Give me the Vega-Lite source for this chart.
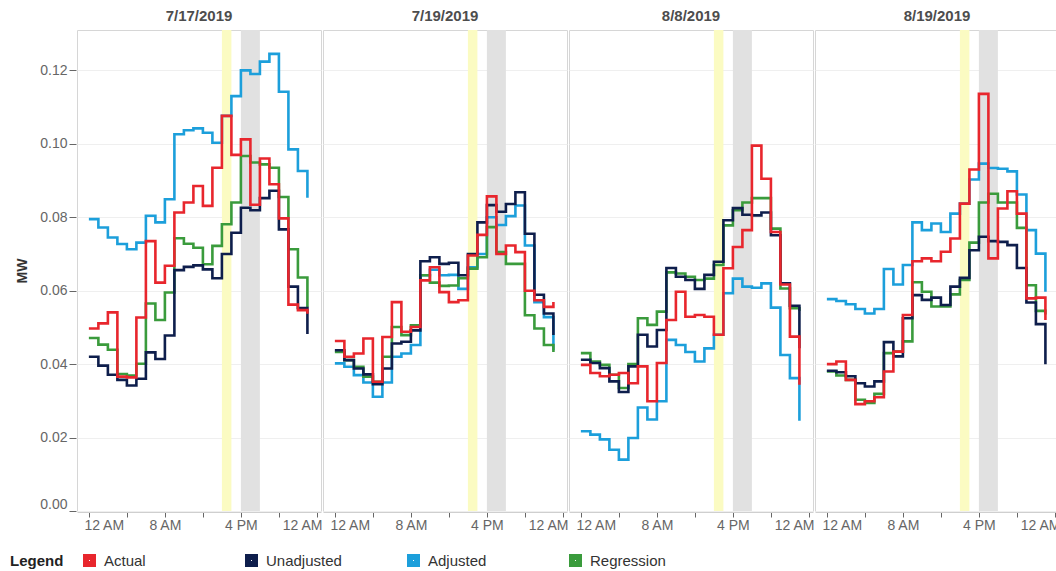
{
  "$schema": "https://vega.github.io/schema/vega-lite/v6.json",
  "padding": {"left": 10, "top": 9, "right": 0, "bottom": 0},
  "background": "white",
  "data": {
    "values": [
      {"d": "7/17/2019", "band": "event", "x0": 14, "x1": 15},
      {"d": "7/17/2019", "band": "peak", "x0": 16, "x1": 18},
      {"d": "7/19/2019", "band": "event", "x0": 14, "x1": 15},
      {"d": "7/19/2019", "band": "peak", "x0": 16, "x1": 18},
      {"d": "8/8/2019", "band": "event", "x0": 14, "x1": 15},
      {"d": "8/8/2019", "band": "peak", "x0": 16, "x1": 18},
      {"d": "8/19/2019", "band": "event", "x0": 14, "x1": 15},
      {"d": "8/19/2019", "band": "peak", "x0": 16, "x1": 18},

      {"d": "7/17/2019", "h": 0, "Actual": 0.0497, "Unadjusted": 0.0420, "Adjusted": 0.0795, "Regression": 0.0471},
      {"d": "7/17/2019", "h": 1, "Actual": 0.0511, "Unadjusted": 0.0396, "Adjusted": 0.0772, "Regression": 0.0453},
      {"d": "7/17/2019", "h": 2, "Actual": 0.0541, "Unadjusted": 0.0371, "Adjusted": 0.0745, "Regression": 0.0439},
      {"d": "7/17/2019", "h": 3, "Actual": 0.0366, "Unadjusted": 0.0357, "Adjusted": 0.0727, "Regression": 0.0373},
      {"d": "7/17/2019", "h": 4, "Actual": 0.0364, "Unadjusted": 0.0342, "Adjusted": 0.0713, "Regression": 0.0369},
      {"d": "7/17/2019", "h": 5, "Actual": 0.0527, "Unadjusted": 0.0360, "Adjusted": 0.0731, "Regression": 0.0401},
      {"d": "7/17/2019", "h": 6, "Actual": 0.0735, "Unadjusted": 0.0432, "Adjusted": 0.0804, "Regression": 0.0565},
      {"d": "7/17/2019", "h": 7, "Actual": 0.0622, "Unadjusted": 0.0414, "Adjusted": 0.0786, "Regression": 0.0520},
      {"d": "7/17/2019", "h": 8, "Actual": 0.0668, "Unadjusted": 0.0478, "Adjusted": 0.0849, "Regression": 0.0595},
      {"d": "7/17/2019", "h": 9, "Actual": 0.0813, "Unadjusted": 0.0656, "Adjusted": 0.1026, "Regression": 0.0743},
      {"d": "7/17/2019", "h": 10, "Actual": 0.0840, "Unadjusted": 0.0665, "Adjusted": 0.1037, "Regression": 0.0728},
      {"d": "7/17/2019", "h": 11, "Actual": 0.0885, "Unadjusted": 0.0669, "Adjusted": 0.1042, "Regression": 0.0717},
      {"d": "7/17/2019", "h": 12, "Actual": 0.0831, "Unadjusted": 0.0658, "Adjusted": 0.1030, "Regression": 0.0672},
      {"d": "7/17/2019", "h": 13, "Actual": 0.0935, "Unadjusted": 0.0634, "Adjusted": 0.1003, "Regression": 0.0722},
      {"d": "7/17/2019", "h": 14, "Actual": 0.1076, "Unadjusted": 0.0700, "Adjusted": 0.1076, "Regression": 0.0781},
      {"d": "7/17/2019", "h": 15, "Actual": 0.0970, "Unadjusted": 0.0758, "Adjusted": 0.1130, "Regression": 0.0840},
      {"d": "7/17/2019", "h": 16, "Actual": 0.1012, "Unadjusted": 0.0826, "Adjusted": 0.1200, "Regression": 0.0967},
      {"d": "7/17/2019", "h": 17, "Actual": 0.0834, "Unadjusted": 0.0819, "Adjusted": 0.1190, "Regression": 0.0949},
      {"d": "7/17/2019", "h": 18, "Actual": 0.0960, "Unadjusted": 0.0852, "Adjusted": 0.1224, "Regression": 0.0944},
      {"d": "7/17/2019", "h": 19, "Actual": 0.0890, "Unadjusted": 0.0872, "Adjusted": 0.1245, "Regression": 0.0935},
      {"d": "7/17/2019", "h": 20, "Actual": 0.0797, "Unadjusted": 0.0767, "Adjusted": 0.1142, "Regression": 0.0855},
      {"d": "7/17/2019", "h": 21, "Actual": 0.0562, "Unadjusted": 0.0611, "Adjusted": 0.0985, "Regression": 0.0713},
      {"d": "7/17/2019", "h": 22, "Actual": 0.0547, "Unadjusted": 0.0553, "Adjusted": 0.0926, "Regression": 0.0636},
      {"d": "7/17/2019", "h": 23, "Actual": 0.0537, "Unadjusted": 0.0482, "Adjusted": 0.0853, "Regression": 0.0555},

      {"d": "7/19/2019", "h": 0, "Actual": 0.0463, "Unadjusted": 0.0438, "Adjusted": 0.0402, "Regression": 0.0433},
      {"d": "7/19/2019", "h": 1, "Actual": 0.0420, "Unadjusted": 0.0411, "Adjusted": 0.0393, "Regression": 0.0411},
      {"d": "7/19/2019", "h": 2, "Actual": 0.0429, "Unadjusted": 0.0388, "Adjusted": 0.0370, "Regression": 0.0393},
      {"d": "7/19/2019", "h": 3, "Actual": 0.0470, "Unadjusted": 0.0372, "Adjusted": 0.0350, "Regression": 0.0366},
      {"d": "7/19/2019", "h": 4, "Actual": 0.0352, "Unadjusted": 0.0345, "Adjusted": 0.0311, "Regression": 0.0352},
      {"d": "7/19/2019", "h": 5, "Actual": 0.0474, "Unadjusted": 0.0388, "Adjusted": 0.0350, "Regression": 0.0420},
      {"d": "7/19/2019", "h": 6, "Actual": 0.0569, "Unadjusted": 0.0456, "Adjusted": 0.0420, "Regression": 0.0501},
      {"d": "7/19/2019", "h": 7, "Actual": 0.0488, "Unadjusted": 0.0461, "Adjusted": 0.0429, "Regression": 0.0479},
      {"d": "7/19/2019", "h": 8, "Actual": 0.0501, "Unadjusted": 0.0492, "Adjusted": 0.0452, "Regression": 0.0506},
      {"d": "7/19/2019", "h": 9, "Actual": 0.0628, "Unadjusted": 0.0680, "Adjusted": 0.0642, "Regression": 0.0642},
      {"d": "7/19/2019", "h": 10, "Actual": 0.0664, "Unadjusted": 0.0691, "Adjusted": 0.0657, "Regression": 0.0622},
      {"d": "7/19/2019", "h": 11, "Actual": 0.0596, "Unadjusted": 0.0673, "Adjusted": 0.0642, "Regression": 0.0613},
      {"d": "7/19/2019", "h": 12, "Actual": 0.0569, "Unadjusted": 0.0676, "Adjusted": 0.0643, "Regression": 0.0614},
      {"d": "7/19/2019", "h": 13, "Actual": 0.0574, "Unadjusted": 0.0642, "Adjusted": 0.0605, "Regression": 0.0634},
      {"d": "7/19/2019", "h": 14, "Actual": 0.0696, "Unadjusted": 0.0700, "Adjusted": 0.0664, "Regression": 0.0660},
      {"d": "7/19/2019", "h": 15, "Actual": 0.0752, "Unadjusted": 0.0786, "Adjusted": 0.0700, "Regression": 0.0691},
      {"d": "7/19/2019", "h": 16, "Actual": 0.0857, "Unadjusted": 0.0833, "Adjusted": 0.0800, "Regression": 0.0773},
      {"d": "7/19/2019", "h": 17, "Actual": 0.0700, "Unadjusted": 0.0815, "Adjusted": 0.0779, "Regression": 0.0705},
      {"d": "7/19/2019", "h": 18, "Actual": 0.0723, "Unadjusted": 0.0836, "Adjusted": 0.0803, "Regression": 0.0673},
      {"d": "7/19/2019", "h": 19, "Actual": 0.0705, "Unadjusted": 0.0868, "Adjusted": 0.0832, "Regression": 0.0673},
      {"d": "7/19/2019", "h": 20, "Actual": 0.0600, "Unadjusted": 0.0755, "Adjusted": 0.0723, "Regression": 0.0533},
      {"d": "7/19/2019", "h": 21, "Actual": 0.0574, "Unadjusted": 0.0589, "Adjusted": 0.0569, "Regression": 0.0497},
      {"d": "7/19/2019", "h": 22, "Actual": 0.0556, "Unadjusted": 0.0538, "Adjusted": 0.0528, "Regression": 0.0452},
      {"d": "7/19/2019", "h": 23, "Actual": 0.0569, "Unadjusted": 0.0479, "Adjusted": 0.0438, "Regression": 0.0433},

      {"d": "8/8/2019", "h": 0, "Actual": 0.0398, "Unadjusted": 0.0412, "Adjusted": 0.0217, "Regression": 0.0430},
      {"d": "8/8/2019", "h": 1, "Actual": 0.0376, "Unadjusted": 0.0403, "Adjusted": 0.0208, "Regression": 0.0407},
      {"d": "8/8/2019", "h": 2, "Actual": 0.0367, "Unadjusted": 0.0389, "Adjusted": 0.0195, "Regression": 0.0398},
      {"d": "8/8/2019", "h": 3, "Actual": 0.0371, "Unadjusted": 0.0353, "Adjusted": 0.0167, "Regression": 0.0371},
      {"d": "8/8/2019", "h": 4, "Actual": 0.0376, "Unadjusted": 0.0324, "Adjusted": 0.0140, "Regression": 0.0335},
      {"d": "8/8/2019", "h": 5, "Actual": 0.0348, "Unadjusted": 0.0394, "Adjusted": 0.0199, "Regression": 0.0400},
      {"d": "8/8/2019", "h": 6, "Actual": 0.0394, "Unadjusted": 0.0480, "Adjusted": 0.0282, "Regression": 0.0525},
      {"d": "8/8/2019", "h": 7, "Actual": 0.0299, "Unadjusted": 0.0448, "Adjusted": 0.0249, "Regression": 0.0507},
      {"d": "8/8/2019", "h": 8, "Actual": 0.0403, "Unadjusted": 0.0493, "Adjusted": 0.0299, "Regression": 0.0543},
      {"d": "8/8/2019", "h": 9, "Actual": 0.0520, "Unadjusted": 0.0662, "Adjusted": 0.0466, "Regression": 0.0650},
      {"d": "8/8/2019", "h": 10, "Actual": 0.0597, "Unadjusted": 0.0638, "Adjusted": 0.0452, "Regression": 0.0647},
      {"d": "8/8/2019", "h": 11, "Actual": 0.0529, "Unadjusted": 0.0629, "Adjusted": 0.0433, "Regression": 0.0638},
      {"d": "8/8/2019", "h": 12, "Actual": 0.0534, "Unadjusted": 0.0605, "Adjusted": 0.0407, "Regression": 0.0629},
      {"d": "8/8/2019", "h": 13, "Actual": 0.0529, "Unadjusted": 0.0643, "Adjusted": 0.0443, "Regression": 0.0633},
      {"d": "8/8/2019", "h": 14, "Actual": 0.0480, "Unadjusted": 0.0679, "Adjusted": 0.0480, "Regression": 0.0670},
      {"d": "8/8/2019", "h": 15, "Actual": 0.0661, "Unadjusted": 0.0792, "Adjusted": 0.0593, "Regression": 0.0778},
      {"d": "8/8/2019", "h": 16, "Actual": 0.0719, "Unadjusted": 0.0825, "Adjusted": 0.0633, "Regression": 0.0819},
      {"d": "8/8/2019", "h": 17, "Actual": 0.0765, "Unadjusted": 0.0807, "Adjusted": 0.0611, "Regression": 0.0840},
      {"d": "8/8/2019", "h": 18, "Actual": 0.0995, "Unadjusted": 0.0805, "Adjusted": 0.0608, "Regression": 0.0852},
      {"d": "8/8/2019", "h": 19, "Actual": 0.0905, "Unadjusted": 0.0813, "Adjusted": 0.0620, "Regression": 0.0852},
      {"d": "8/8/2019", "h": 20, "Actual": 0.0760, "Unadjusted": 0.0751, "Adjusted": 0.0554, "Regression": 0.0769},
      {"d": "8/8/2019", "h": 21, "Actual": 0.0617, "Unadjusted": 0.0620, "Adjusted": 0.0425, "Regression": 0.0606},
      {"d": "8/8/2019", "h": 22, "Actual": 0.0475, "Unadjusted": 0.0559, "Adjusted": 0.0362, "Regression": 0.0552},
      {"d": "8/8/2019", "h": 23, "Actual": 0.0344, "Unadjusted": 0.0443, "Adjusted": 0.0246, "Regression": 0.0545},

      {"d": "8/19/2019", "h": 0, "Actual": 0.0400, "Unadjusted": 0.0382, "Adjusted": 0.0577, "Regression": 0.0380},
      {"d": "8/19/2019", "h": 1, "Actual": 0.0407, "Unadjusted": 0.0378, "Adjusted": 0.0572, "Regression": 0.0369},
      {"d": "8/19/2019", "h": 2, "Actual": 0.0357, "Unadjusted": 0.0367, "Adjusted": 0.0563, "Regression": 0.0357},
      {"d": "8/19/2019", "h": 3, "Actual": 0.0291, "Unadjusted": 0.0348, "Adjusted": 0.0550, "Regression": 0.0303},
      {"d": "8/19/2019", "h": 4, "Actual": 0.0299, "Unadjusted": 0.0339, "Adjusted": 0.0538, "Regression": 0.0294},
      {"d": "8/19/2019", "h": 5, "Actual": 0.0310, "Unadjusted": 0.0353, "Adjusted": 0.0550, "Regression": 0.0319},
      {"d": "8/19/2019", "h": 6, "Actual": 0.0380, "Unadjusted": 0.0460, "Adjusted": 0.0659, "Regression": 0.0430},
      {"d": "8/19/2019", "h": 7, "Actual": 0.0434, "Unadjusted": 0.0421, "Adjusted": 0.0617, "Regression": 0.0434},
      {"d": "8/19/2019", "h": 8, "Actual": 0.0534, "Unadjusted": 0.0525, "Adjusted": 0.0670, "Regression": 0.0462},
      {"d": "8/19/2019", "h": 9, "Actual": 0.0680, "Unadjusted": 0.0588, "Adjusted": 0.0786, "Regression": 0.0623},
      {"d": "8/19/2019", "h": 10, "Actual": 0.0688, "Unadjusted": 0.0575, "Adjusted": 0.0765, "Regression": 0.0597},
      {"d": "8/19/2019", "h": 11, "Actual": 0.0680, "Unadjusted": 0.0581, "Adjusted": 0.0783, "Regression": 0.0557},
      {"d": "8/19/2019", "h": 12, "Actual": 0.0706, "Unadjusted": 0.0561, "Adjusted": 0.0760, "Regression": 0.0557},
      {"d": "8/19/2019", "h": 13, "Actual": 0.0742, "Unadjusted": 0.0611, "Adjusted": 0.0810, "Regression": 0.0590},
      {"d": "8/19/2019", "h": 14, "Actual": 0.0837, "Unadjusted": 0.0635, "Adjusted": 0.0837, "Regression": 0.0629},
      {"d": "8/19/2019", "h": 15, "Actual": 0.0930, "Unadjusted": 0.0710, "Adjusted": 0.0903, "Regression": 0.0731},
      {"d": "8/19/2019", "h": 16, "Actual": 0.1136, "Unadjusted": 0.0747, "Adjusted": 0.0946, "Regression": 0.0840},
      {"d": "8/19/2019", "h": 17, "Actual": 0.0688, "Unadjusted": 0.0735, "Adjusted": 0.0934, "Regression": 0.0864},
      {"d": "8/19/2019", "h": 18, "Actual": 0.0824, "Unadjusted": 0.0733, "Adjusted": 0.0932, "Regression": 0.0840},
      {"d": "8/19/2019", "h": 19, "Actual": 0.0871, "Unadjusted": 0.0724, "Adjusted": 0.0925, "Regression": 0.0840},
      {"d": "8/19/2019", "h": 20, "Actual": 0.0810, "Unadjusted": 0.0662, "Adjusted": 0.0862, "Regression": 0.0771},
      {"d": "8/19/2019", "h": 21, "Actual": 0.0579, "Unadjusted": 0.0568, "Adjusted": 0.0765, "Regression": 0.0615},
      {"d": "8/19/2019", "h": 22, "Actual": 0.0581, "Unadjusted": 0.0509, "Adjusted": 0.0701, "Regression": 0.0545},
      {"d": "8/19/2019", "h": 23, "Actual": 0.0520, "Unadjusted": 0.0400, "Adjusted": 0.0597, "Regression": 0.0535}
    ]
  },
  "facet": {
    "column": {
      "field": "d",
      "type": "ordinal",
      "sort": ["7/17/2019", "7/19/2019", "8/8/2019", "8/19/2019"],
      "title": null,
      "header": {
        "labelFontSize": 15,
        "labelFontWeight": "bold",
        "labelColor": "#4d4d4d",
        "labelPadding": 5
      }
    }
  },
  "spacing": 0,
  "spec": {
    "width": 244,
    "height": 481,
    "layer": [
      {
        "transform": [{"filter": "datum.band == 'event'"}],
        "mark": {"type": "rect", "color": "#fbfbc2"},
        "encoding": {
          "x": {
            "field": "x0", "type": "quantitative", "title": null,
            "scale": {"domain": [-1.25, 24.43], "nice": false, "zero": false},
            "axis": {
              "values": [0,1,2,3,4,5,6,7,8,9,10,11,12,13,14,15,16,17,18,19,20,21,22,23,24],
              "labelExpr": "datum.value == 0 || datum.value == 24 ? '12 AM' : datum.value == 8 ? '8 AM' : datum.value == 16 ? '4 PM' : ''",
              "tickSize": {"condition": {"test": "datum.value % 4 == 0", "value": 5}, "value": 2},
              "labelFlush": 20,
              "labelFlushOffset": 5,
              "labelOverlap": false,
              "grid": false
            }
          },
          "x2": {"field": "x1"}
        }
      },
      {
        "transform": [{"filter": "datum.band == 'peak'"}],
        "mark": {"type": "rect", "color": "#e1e1e1"},
        "encoding": {
          "x": {"field": "x0", "type": "quantitative", "title": null},
          "x2": {"field": "x1"}
        }
      },
      {
        "transform": [
          {"filter": "isValid(datum.h)"},
          {"fold": ["Adjusted", "Regression", "Unadjusted", "Actual"], "as": ["series", "MW"]}
        ],
        "mark": {"type": "line", "interpolate": "step-after", "strokeWidth": 2.6},
        "encoding": {
          "x": {"field": "h", "type": "quantitative", "title": null},
          "y": {
            "field": "MW", "type": "quantitative", "title": "MW",
            "scale": {"domain": [0, 0.131], "nice": false},
            "axis": {
              "values": [0, 0.02, 0.04, 0.06, 0.08, 0.1, 0.12],
              "format": ".2f",
              "labelFlush": true
            }
          },
          "color": {
            "field": "series", "type": "nominal",
            "scale": {
              "domain": ["Actual", "Unadjusted", "Adjusted", "Regression"],
              "range": ["#e8262d", "#0e1e4c", "#1c9fdb", "#3a9b3c"]
            },
            "legend": {
              "title": "Legend",
              "orient": "none",
              "legendX": -67,
              "legendY": 523,
              "direction": "horizontal",
              "columns": 4,
              "gridAlign": "all",
              "columnPadding": 56,
              "titleOrient": "left",
              "titleAnchor": "start",
              "titleBaseline": "line-top",
              "titleLineHeight": 17,
              "titleFontSize": 15,
              "titleFontWeight": "bold",
              "titleColor": "#222",
              "titlePadding": 18,
              "labelFontSize": 15,
              "labelColor": "#333",
              "labelOffset": 7,
              "symbolType": "square",
              "symbolSize": 49,
              "symbolStrokeWidth": 6
            }
          }
        }
      }
    ]
  },
  "config": {
    "font": "Liberation Sans",
    "view": {"stroke": "#d6d6d6"},
    "axis": {
      "labelFontSize": 14,
      "labelColor": "#666",
      "tickColor": "#666",
      "titleFontSize": 14,
      "titleFontWeight": "bold",
      "titleColor": "#333"
    },
    "axisX": {"domainColor": "#cfcfcf", "labelPadding": 1},
    "axisY": {"domain": false, "tickSize": 7, "labelPadding": 2, "titlePadding": 10, "gridColor": "#efefef"}
  }
}
